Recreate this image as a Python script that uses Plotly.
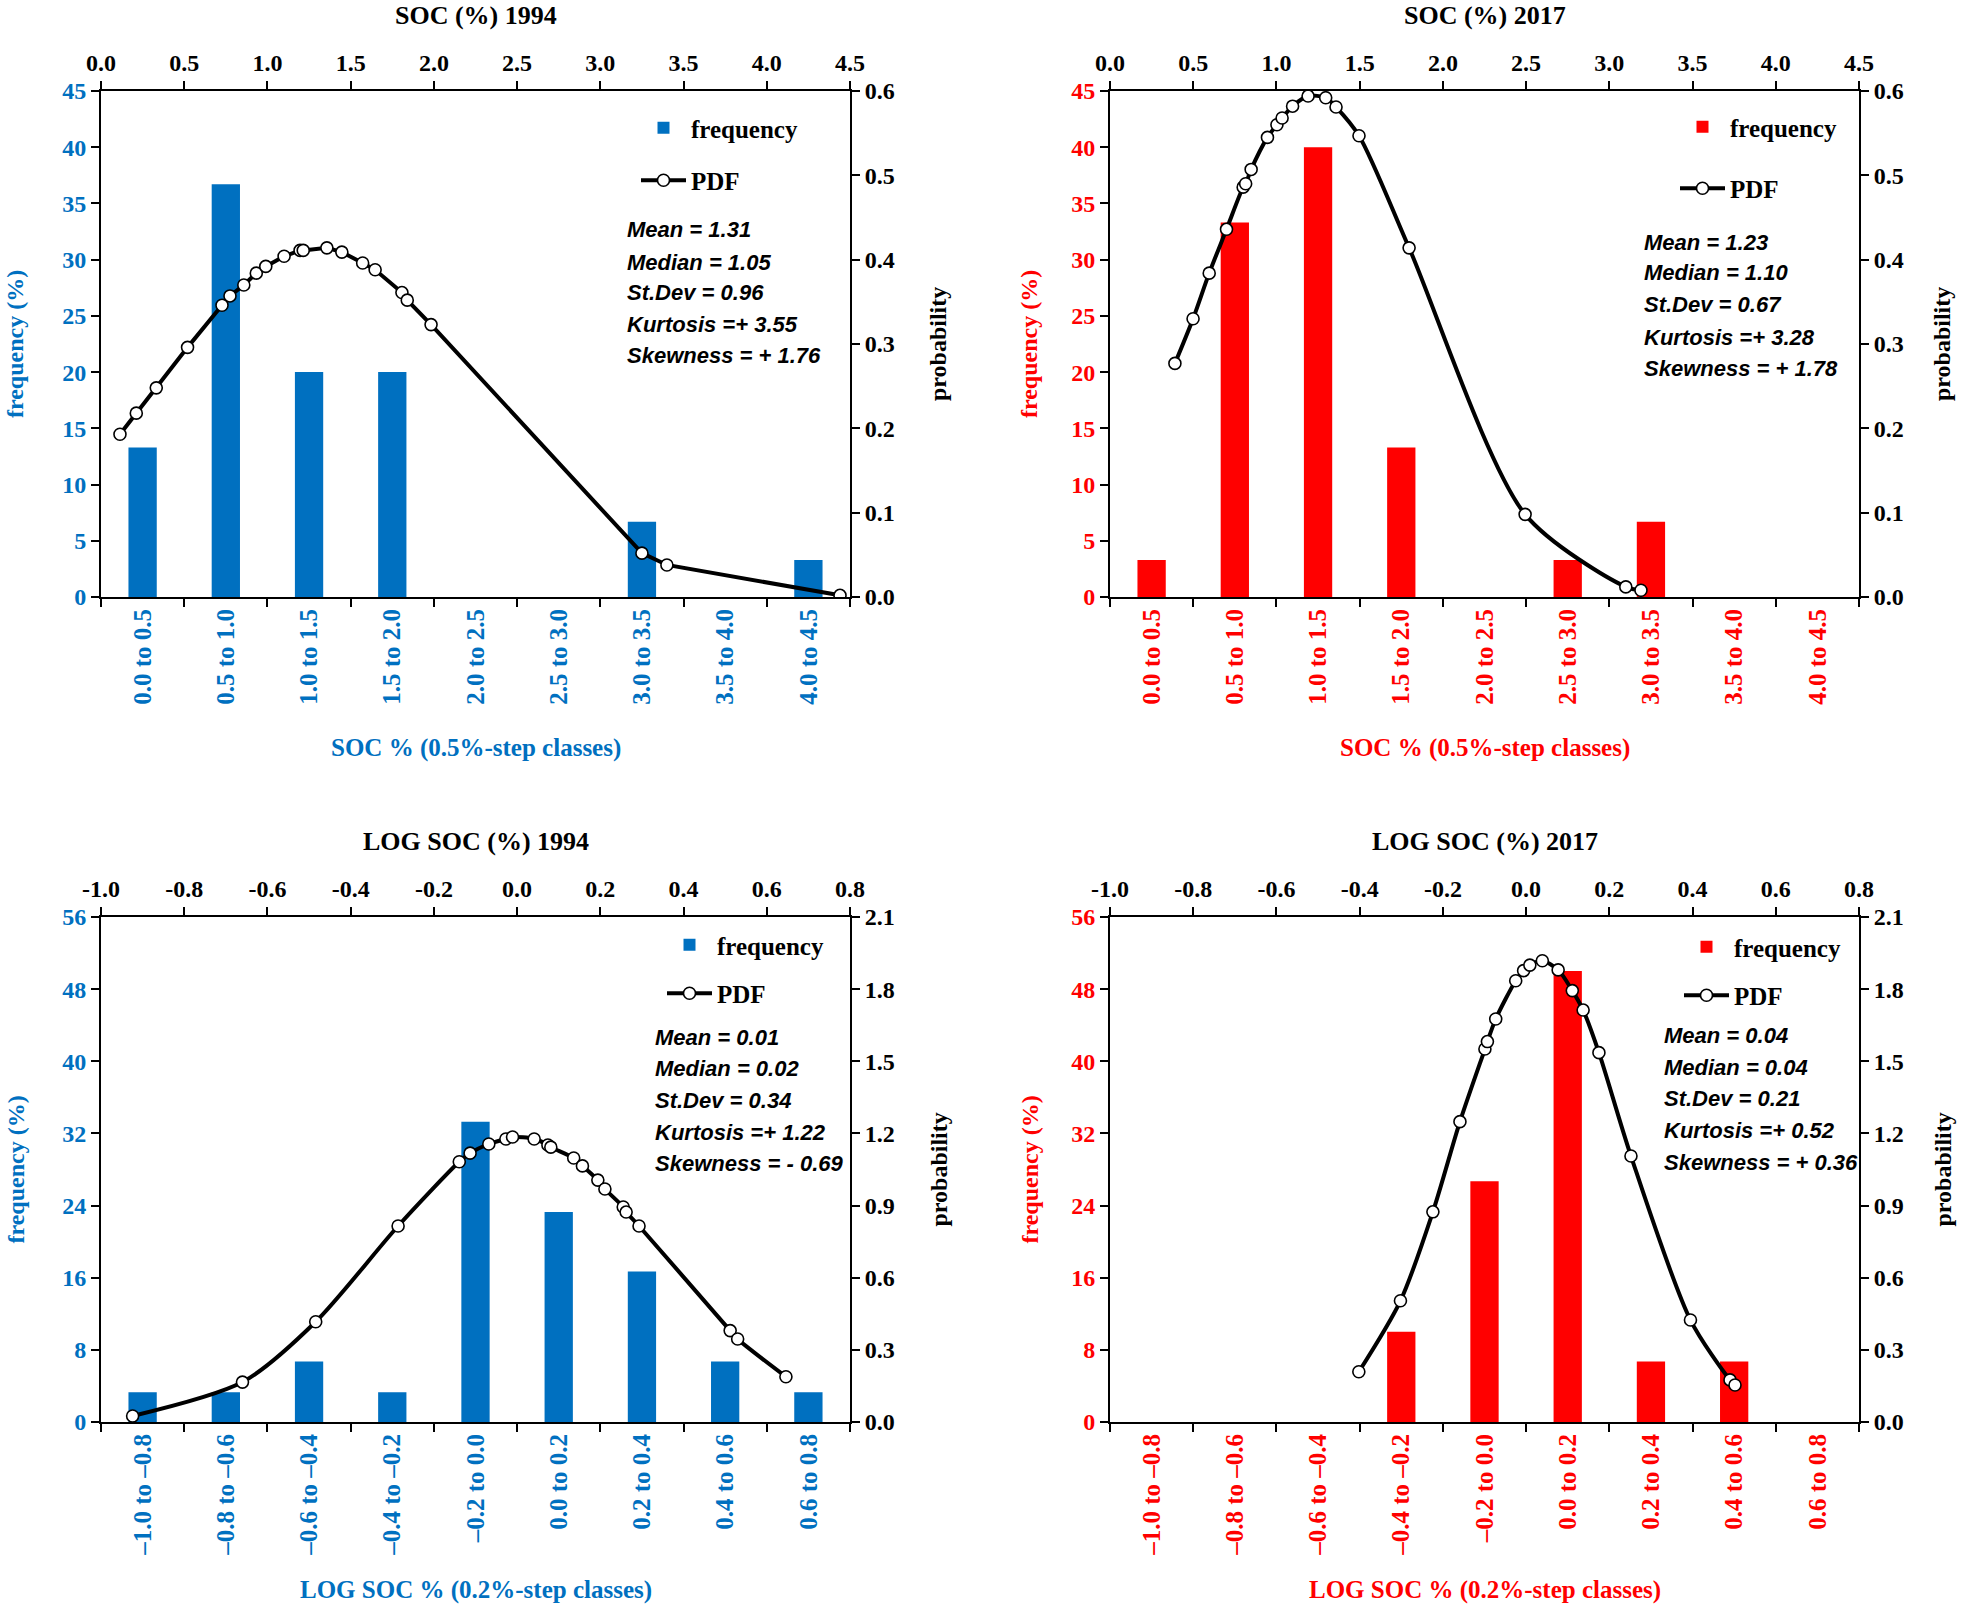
import plotly.graph_objects as go

W, H = 1961, 1607
SERIF = "Times New Roman, Liberation Serif, serif"
SANS = "Arial, Liberation Sans, sans-serif"
BLUE = "#0070C0"
RED = "#FF0000"

# ---- data ----
CATS_SOC = ["0.0 to 0.5", "0.5 to 1.0", "1.0 to 1.5", "1.5 to 2.0", "2.0 to 2.5",
            "2.5 to 3.0", "3.0 to 3.5", "3.5 to 4.0", "4.0 to 4.5"]
CATS_LOG = ["–1.0 to –0.8", "–0.8 to –0.6", "–0.6 to –0.4", "–0.4 to –0.2", "–0.2 to 0.0",
            "0.0 to 0.2", "0.2 to 0.4", "0.4 to 0.6", "0.6 to 0.8"]

FREQ_1994 = [13.3, 36.7, 20.0, 20.0, 0, 0, 6.7, 0, 3.3]
FREQ_2017 = [3.3, 33.3, 40.0, 13.3, 0, 3.3, 6.7, 0, 0]
FREQ_LOG_1994 = [3.3, 3.3, 6.7, 3.3, 33.3, 23.3, 16.7, 6.7, 3.3]
FREQ_LOG_2017 = [0, 0, 0, 10.0, 26.7, 50.0, 6.7, 6.7, 0]

PDF_X_1994 = [0.114, 0.212, 0.332, 0.52, 0.727, 0.775, 0.858, 0.933, 0.99, 1.10, 1.196,
              1.215, 1.357, 1.447, 1.572, 1.647, 1.808, 1.84, 1.983, 3.25, 3.40, 4.44]
PDF_Y_1994 = [0.193, 0.218, 0.248, 0.296, 0.346, 0.357, 0.370, 0.384, 0.392, 0.404, 0.411,
              0.411, 0.414, 0.409, 0.396, 0.388, 0.361, 0.352, 0.323, 0.052, 0.038, 0.002]

PDF_X_2017 = [0.39, 0.499, 0.596, 0.70, 0.80, 0.815, 0.848, 0.946, 1.003, 1.034, 1.097,
              1.19, 1.296, 1.358, 1.496, 1.797, 2.494, 3.099, 3.19]
PDF_Y_2017 = [0.277, 0.33, 0.384, 0.436, 0.486, 0.490, 0.507, 0.545, 0.560, 0.568, 0.582,
              0.594, 0.592, 0.581, 0.547, 0.414, 0.098, 0.012, 0.008]

PDF_X_LOG_1994 = [-0.924, -0.66, -0.484, -0.286, -0.139, -0.113, -0.068, -0.027, -0.011,
                  0.041, 0.074, 0.081, 0.136, 0.157, 0.194, 0.211, 0.255, 0.262, 0.293,
                  0.512, 0.53, 0.646]
PDF_Y_LOG_1994 = [0.025, 0.166, 0.417, 0.815, 1.082, 1.118, 1.156, 1.177, 1.185,
                  1.177, 1.152, 1.143, 1.098, 1.065, 1.006, 0.969, 0.894, 0.873, 0.815,
                  0.380, 0.345, 0.188]

PDF_X_LOG_2017 = [-0.402, -0.302, -0.224, -0.159, -0.099, -0.093, -0.073, -0.025, -0.006,
                  0.009, 0.039, 0.077, 0.111, 0.137, 0.175, 0.252, 0.395, 0.490, 0.502]
PDF_Y_LOG_2017 = [0.209, 0.504, 0.874, 1.249, 1.551, 1.582, 1.676, 1.835, 1.877,
                  1.900, 1.918, 1.880, 1.794, 1.713, 1.536, 1.106, 0.424, 0.175, 0.154]

SOC_TICKVALS = [0.0, 0.5, 1.0, 1.5, 2.0, 2.5, 3.0, 3.5, 4.0, 4.5]
SOC_TICKTEXT = ["0.0", "0.5", "1.0", "1.5", "2.0", "2.5", "3.0", "3.5", "4.0", "4.5"]
LOG_TICKVALS = [-1.0, -0.8, -0.6, -0.4, -0.2, 0.0, 0.2, 0.4, 0.6, 0.8]
LOG_TICKTEXT = ["-1.0", "-0.8", "-0.6", "-0.4", "-0.2", "0.0", "0.2", "0.4", "0.6", "0.8"]

STATS_1994 = ["Mean = 1.31", "Median = 1.05", "St.Dev = 0.96", "Kurtosis =+ 3.55", "Skewness = + 1.76"]
STATS_2017 = ["Mean = 1.23", "Median = 1.10", "St.Dev = 0.67", "Kurtosis =+ 3.28", "Skewness = + 1.78"]
STATS_LOG_1994 = ["Mean = 0.01", "Median = 0.02", "St.Dev = 0.34", "Kurtosis =+ 1.22", "Skewness = - 0.69"]
STATS_LOG_2017 = ["Mean = 0.04", "Median = 0.04", "St.Dev = 0.21", "Kurtosis =+ 0.52", "Skewness = + 0.36"]


def px_x(p):
    # picture pixel -> paper coordinate
    return p / W


def px_y(p):
    return 1 - p / H


# panel layout (pixel positions in the 1961x1607 picture)
panels = [
    dict(title="SOC (%) 1994", xtitle="SOC % (0.5%-step classes)", color=BLUE,
         cats=CATS_SOC, freq=FREQ_1994, pdfx=PDF_X_1994, pdfy=PDF_Y_1994,
         stats=STATS_1994, tickvals=SOC_TICKVALS, ticktext=SOC_TICKTEXT, xrange=[0, 4.5],
         ymax=45, dtick=5, pmax=0.6, pdtick=0.1, shape="linear",
         left=101, right=850, top=91, bottom=597,
         title_y=15, xtitle_y=748, ytitle_x=15, ptitle_x=938,
         stats_x=625, stats_y=[229, 262, 293, 325, 355],
         leg_x=636, leg_y=105, leg_gap=17),
    dict(title="SOC (%) 2017", xtitle="SOC % (0.5%-step classes)", color=RED,
         cats=CATS_SOC, freq=FREQ_2017, pdfx=PDF_X_2017, pdfy=PDF_Y_2017,
         stats=STATS_2017, tickvals=SOC_TICKVALS, ticktext=SOC_TICKTEXT, xrange=[0, 4.5],
         ymax=45, dtick=5, pmax=0.6, pdtick=0.1, shape="spline",
         left=1110, right=1859, top=91, bottom=597,
         title_y=15, xtitle_y=748, ytitle_x=1029, ptitle_x=1942,
         stats_x=1642, stats_y=[242, 273, 304, 337, 368],
         leg_x=1675, leg_y=104, leg_gap=26),
    dict(title="LOG SOC (%) 1994", xtitle="LOG SOC % (0.2%-step classes)", color=BLUE,
         cats=CATS_LOG, freq=FREQ_LOG_1994, pdfx=PDF_X_LOG_1994, pdfy=PDF_Y_LOG_1994,
         stats=STATS_LOG_1994, tickvals=LOG_TICKVALS, ticktext=LOG_TICKTEXT, xrange=[-1.0, 0.8],
         ymax=56, dtick=8, pmax=2.1, pdtick=0.3, shape="spline",
         left=101, right=850, top=917, bottom=1422,
         title_y=841, xtitle_y=1590, ytitle_x=15, ptitle_x=938,
         stats_x=653, stats_y=[1037, 1068, 1100, 1132, 1163],
         leg_x=662, leg_y=922, leg_gap=13),
    dict(title="LOG SOC (%) 2017", xtitle="LOG SOC % (0.2%-step classes)", color=RED,
         cats=CATS_LOG, freq=FREQ_LOG_2017, pdfx=PDF_X_LOG_2017, pdfy=PDF_Y_LOG_2017,
         stats=STATS_LOG_2017, tickvals=LOG_TICKVALS, ticktext=LOG_TICKTEXT, xrange=[-1.0, 0.8],
         ymax=56, dtick=8, pmax=2.1, pdtick=0.3, shape="spline",
         left=1110, right=1859, top=917, bottom=1422,
         title_y=841, xtitle_y=1590, ytitle_x=1029, ptitle_x=1942,
         stats_x=1662, stats_y=[1035, 1067, 1098, 1130, 1162],
         leg_x=1679, leg_y=924, leg_gap=13),
]

fig = go.Figure()
layout = dict(
    width=W, height=H,
    margin=dict(l=0, r=0, t=0, b=0, autoexpand=False),
    paper_bgcolor="white", plot_bgcolor="white",
    barmode="overlay",
    font=dict(family=SERIF, color="black"),
    annotations=[],
)

axis_common = dict(showgrid=False, zeroline=False, ticks="outside", ticklen=8, tickwidth=2,
                   tickcolor="black", showline=True, linecolor="black", linewidth=2,
                   automargin=False)

for i, p in enumerate(panels):
    k = 2 * i + 1
    xb, xt = f"x{k}", f"x{k + 1}"
    yl, yr = f"y{k}", f"y{k + 1}"
    leg = "legend" if i == 0 else f"legend{i + 1}"
    col = p["color"]

    fig.add_trace(go.Bar(
        x=p["cats"], y=p["freq"], width=0.34, marker=dict(color=col, line=dict(width=0)),
        name="frequency", legend=leg, legendgroup=f"f{i}",
        xaxis=xb, yaxis=yl,
    ))
    fig.add_trace(go.Scatter(
        x=p["pdfx"], y=p["pdfy"], mode="lines+markers", name="PDF",
        legend=leg, legendgroup=f"p{i}",
        line=dict(color="black", width=4, shape=p["shape"], smoothing=0.8),
        marker=dict(symbol="circle", size=12, color="white", line=dict(color="black", width=1.6)),
        xaxis=xt, yaxis=yr,
    ))

    xdom = [px_x(p["left"]), px_x(p["right"])]
    ydom = [px_y(p["bottom"]), px_y(p["top"])]
    xb_name = "xaxis" if k == 1 else f"xaxis{k}"
    yl_name = "yaxis" if k == 1 else f"yaxis{k}"

    layout[xb_name] = dict(
        axis_common, domain=xdom, anchor=yl, type="category",
        categoryorder="array", categoryarray=p["cats"], range=[-0.5, 8.5],
        tickson="boundaries", tickangle=-90,
        tickfont=dict(family=SERIF, size=25, color=col, weight="bold"),
    )
    layout[f"xaxis{k + 1}"] = dict(
        axis_common, overlaying=xb, anchor=yl, side="top", range=p["xrange"],
        tickvals=p["tickvals"], ticktext=p["ticktext"],
        tickfont=dict(family=SERIF, size=24, color="black", weight="bold"),
    )
    layout[yl_name] = dict(
        axis_common, domain=ydom, anchor=xb, range=[0, p["ymax"]], dtick=p["dtick"],
        tickfont=dict(family=SERIF, size=24, color=col, weight="bold"),
    )
    layout[f"yaxis{k + 1}"] = dict(
        axis_common, overlaying=yl, anchor=xb, side="right", range=[0, p["pmax"]],
        dtick=p["pdtick"], tickformat=".1f",
        tickfont=dict(family=SERIF, size=24, color="black", weight="bold"),
    )

    layout[leg] = dict(
        x=px_x(p["leg_x"]), y=px_y(p["leg_y"]), xanchor="left", yanchor="top",
        bgcolor="rgba(0,0,0,0)", tracegroupgap=p["leg_gap"], itemwidth=45,
        font=dict(family=SERIF, size=25, color="black", weight="bold"),
    )

    cx = px_x((p["left"] + p["right"]) / 2)
    cy = px_y((p["top"] + p["bottom"]) / 2)
    anns = layout["annotations"]
    anns.append(dict(text=p["title"], x=cx, y=px_y(p["title_y"]), xref="paper", yref="paper",
                     showarrow=False, xanchor="center", yanchor="middle",
                     font=dict(family=SERIF, size=26, color="black", weight="bold")))
    anns.append(dict(text=p["xtitle"], x=cx, y=px_y(p["xtitle_y"]), xref="paper", yref="paper",
                     showarrow=False, xanchor="center", yanchor="middle",
                     font=dict(family=SERIF, size=25, color=col, weight="bold")))
    anns.append(dict(text="frequency (%)", x=px_x(p["ytitle_x"]), y=cy, xref="paper", yref="paper",
                     showarrow=False, xanchor="center", yanchor="middle", textangle=-90,
                     font=dict(family=SERIF, size=24, color=col, weight="bold")))
    anns.append(dict(text="probability", x=px_x(p["ptitle_x"]), y=cy, xref="paper", yref="paper",
                     showarrow=False, xanchor="center", yanchor="middle", textangle=-90,
                     font=dict(family=SERIF, size=24, color="black", weight="bold")))
    for line, sy in zip(p["stats"], p["stats_y"]):
        anns.append(dict(text=line, x=px_x(p["stats_x"]), y=px_y(sy), xref="paper", yref="paper",
                         showarrow=False, xanchor="left", yanchor="middle",
                         font=dict(family=SANS, size=22, color="black", weight="bold",
                                   style="italic")))

fig.update_layout(**layout)
# drop the browser's default 8px body margin so the figure fills the window
fig.write_html("out.html", config={"displayModeBar": False},
               post_script="document.body.style.margin = '0px';")
